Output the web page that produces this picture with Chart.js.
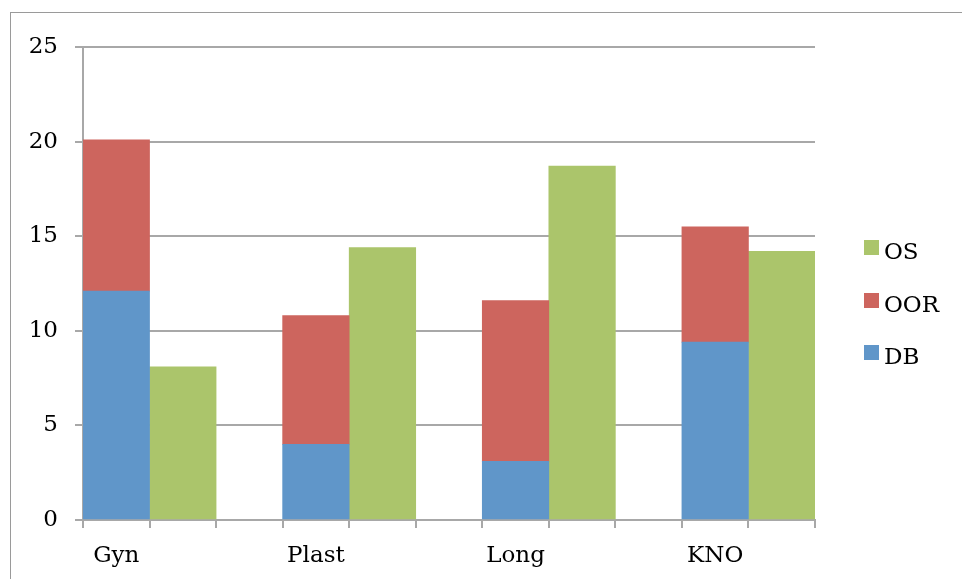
<!DOCTYPE html>
<html>
<head>
<meta charset="utf-8">
<script src="https://cdn.jsdelivr.net/npm/chart.js@4.4.1/dist/chart.umd.min.js"></script>
<style>
html,body{margin:0;padding:0;background:#fff;}
#wrap{width:962px;height:579px;position:relative;}
</style>
</head>
<body>
<div id="wrap"><canvas id="c" width="962" height="579"></canvas></div>
<script>
const categories = ['Gyn', 'Plast', 'Long', 'KNO'];
const seriesNames = ['DB', 'OOR', 'OS'];
const dbValues = [12.1, 4.0, 3.1, 9.4];
const oorValues = [8.0, 6.8, 8.5, 6.1];
const osValues = [8.1, 14.4, 18.7, 14.2];
const yTicks = [0, 5, 10, 15, 20, 25];

const colors = { DB: '#6096c9', OOR: '#cd655e', OS: '#abc56b' };

// Each category uses 3 slots: stacked DB+OOR, OS, empty gap (last group has no gap)
const labels = [];
const dbData = [], oorData = [], osData = [];
categories.forEach((c, i) => {
  labels.push(c); dbData.push(dbValues[i]); oorData.push(oorValues[i]); osData.push(null);
  labels.push(''); dbData.push(null); oorData.push(null); osData.push(osValues[i]);
  if (i < categories.length - 1) { labels.push(''); dbData.push(null); oorData.push(null); osData.push(null); }
});

const FONT = 'DejaVu Serif';
const FSIZE = 23;
const GRID = '#a8a8a8';

const frameAndLegend = {
  id: 'frameAndLegend',
  afterDraw(chart) {
    const ctx = chart.ctx;
    ctx.save();
    ctx.strokeStyle = '#9a9a9a';
    ctx.lineWidth = 1;
    ctx.strokeRect(10.5, 12.5, 970, 600);
    const items = ['OS', 'OOR', 'DB'];
    const tops = [240, 293, 345];
    ctx.font = FSIZE + 'px "' + FONT + '"';
    ctx.textBaseline = 'alphabetic';
    ctx.textAlign = 'left';
    items.forEach((name, i) => {
      ctx.fillStyle = colors[name];
      ctx.fillRect(864, tops[i], 15, 15);
      ctx.fillStyle = '#000';
      ctx.fillText(name, 884, tops[i] + 19);
    });
    ctx.restore();
  }
};

new Chart(document.getElementById('c'), {
  type: 'bar',
  data: {
    labels: labels,
    datasets: [
      { label: 'DB', data: dbData, backgroundColor: colors.DB },
      { label: 'OOR', data: oorData, backgroundColor: colors.OOR },
      { label: 'OS', data: osData, backgroundColor: colors.OS }
    ]
  },
  options: {
    responsive: false,
    animation: false,
    devicePixelRatio: 1,
    layout: { padding: { left: 0, right: 147, top: 47, bottom: 0 } },
    datasets: { bar: { barPercentage: 1, categoryPercentage: 1, borderWidth: 0 } },
    plugins: { legend: { display: false }, tooltip: { enabled: false } },
    scales: {
      x: {
        stacked: true,
        offset: true,
        grid: { offset: true, drawOnChartArea: false, drawTicks: true, tickLength: 8, color: GRID, lineWidth: 2 },
        border: { color: GRID, width: 2 },
        ticks: { color: '#000', font: { family: FONT, size: FSIZE }, padding: 14, maxRotation: 0, autoSkip: false },
        afterFit(s) { s.height = 59; }
      },
      y: {
        stacked: true,
        min: 0, max: 25,
        afterBuildTicks(s) { s.ticks = yTicks.map(v => ({ value: v })); },
        grid: { color: GRID, lineWidth: 2, tickLength: 8 },
        border: { color: GRID, width: 2 },
        ticks: { color: '#000', font: { family: FONT, size: FSIZE }, padding: 17 },
        afterFit(s) { s.width = 83; }
      }
    }
  },
  plugins: [frameAndLegend]
});
</script>
</body>
</html>
